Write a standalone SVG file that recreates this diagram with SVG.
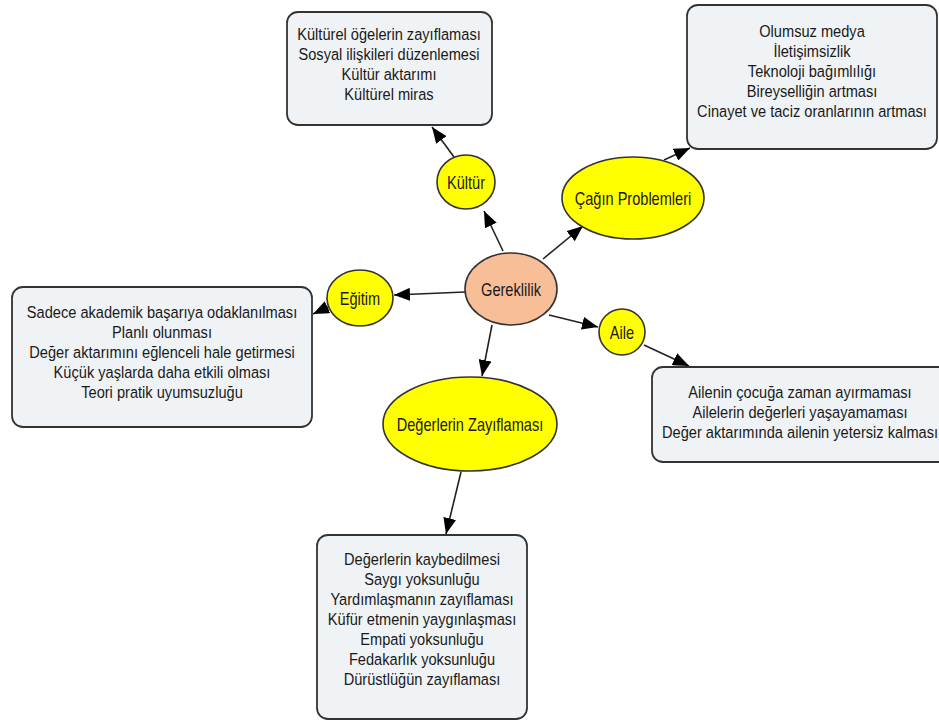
<svg xmlns="http://www.w3.org/2000/svg" width="939" height="722" viewBox="0 0 939 722">
<defs>
<style>
.box{fill:#EFF3F5;stroke:#333;stroke-width:1.8}
.yel{fill:#FFFF00;stroke:#333;stroke-width:1.6}
.peach{fill:#F7BE98;stroke:#333;stroke-width:1.6}
.t{font-family:"Liberation Sans",Arial,sans-serif;font-size:17px;fill:#1a1a1a;text-anchor:middle}
.e{font-family:"Liberation Sans",Arial,sans-serif;font-size:18px;fill:#1a1a1a;text-anchor:middle}
.c{stroke:#222;stroke-width:1.6;fill:none;marker-end:url(#ah)}
</style>
<marker id="ah" markerUnits="userSpaceOnUse" markerWidth="16" markerHeight="13" viewBox="0 0 16 13" refX="16" refY="6.5" orient="auto">
<path d="M0,0 L16,6.5 L0,13 Z" fill="#000"/>
</marker>
</defs>
<rect width="939" height="722" fill="#fff"/>
<g id="connectors">
<line class="c" x1="503" y1="251" x2="484" y2="211"/>
<line class="c" x1="454" y1="157" x2="432" y2="127"/>
<line class="c" x1="543" y1="259" x2="583" y2="226"/>
<line class="c" x1="664" y1="160" x2="690" y2="148"/>
<line class="c" x1="465" y1="292" x2="394" y2="295"/>
<line class="c" x1="328" y1="307" x2="313" y2="314"/>
<line class="c" x1="549" y1="315" x2="598" y2="327"/>
<line class="c" x1="644" y1="345" x2="689" y2="366"/>
<line class="c" x1="492" y1="325" x2="482" y2="376"/>
<line class="c" x1="461" y1="472" x2="446" y2="534"/>
</g>
<g id="kultur-box">
<rect class="box" x="287" y="12" width="205" height="113" rx="11"/>
<text class="t" transform="translate(389 0) scale(0.86 1)"><tspan x="0" y="40">Kültürel öğelerin zayıflaması</tspan><tspan x="0" y="60">Sosyal ilişkileri düzenlemesi</tspan><tspan x="0" y="80">Kültür aktarımı</tspan><tspan x="0" y="100">Kültürel miras</tspan></text>
</g>
<g id="cagin-box">
<rect class="box" x="687" y="5" width="250" height="144" rx="11"/>
<text class="t" transform="translate(812 0) scale(0.86 1)"><tspan x="0" y="37">Olumsuz medya</tspan><tspan x="0" y="57">İletişimsizlik</tspan><tspan x="0" y="77">Teknoloji bağımlılığı</tspan><tspan x="0" y="97">Bireyselliğin artması</tspan><tspan x="0" y="117">Cinayet ve taciz oranlarının artması</tspan></text>
</g>
<g id="egitim-box">
<rect class="box" x="12" y="287" width="300" height="140" rx="11"/>
<text class="t" transform="translate(162 0) scale(0.86 1)"><tspan x="0" y="318">Sadece akademik başarıya odaklanılması</tspan><tspan x="0" y="338">Planlı olunması</tspan><tspan x="0" y="358">Değer aktarımını eğlenceli hale getirmesi</tspan><tspan x="0" y="378">Küçük yaşlarda daha etkili olması</tspan><tspan x="0" y="398">Teori pratik uyumsuzluğu</tspan></text>
</g>
<g id="aile-box">
<rect class="box" x="652" y="367" width="300" height="95" rx="11"/>
<text class="t" transform="translate(800 0) scale(0.86 1)"><tspan x="0" y="398">Ailenin çocuğa zaman ayırmaması</tspan><tspan x="0" y="418">Ailelerin değerleri yaşayamaması</tspan><tspan x="0" y="438">Değer aktarımında ailenin yetersiz kalması</tspan></text>
</g>
<g id="degerler-box">
<rect class="box" x="317" y="535" width="210" height="184" rx="11"/>
<text class="t" transform="translate(422 0) scale(0.86 1)"><tspan x="0" y="565">Değerlerin kaybedilmesi</tspan><tspan x="0" y="585">Saygı yoksunluğu</tspan><tspan x="0" y="605">Yardımlaşmanın zayıflaması</tspan><tspan x="0" y="625">Küfür etmenin yaygınlaşması</tspan><tspan x="0" y="645">Empati yoksunluğu</tspan><tspan x="0" y="665">Fedakarlık yoksunluğu</tspan><tspan x="0" y="685">Dürüstlüğün zayıflaması</tspan></text>
</g>
<g id="gereklilik">
<ellipse class="peach" cx="511" cy="289" rx="46" ry="36"/>
<text class="e" transform="translate(511 0) scale(0.81 1)" x="0" y="296">Gereklilik</text>
</g>
<g id="kultur">
<ellipse class="yel" cx="466" cy="182" rx="29" ry="27"/>
<text class="e" transform="translate(466 0) scale(0.81 1)" x="0" y="189">Kültür</text>
</g>
<g id="cagin">
<ellipse class="yel" cx="633" cy="198" rx="71" ry="41"/>
<text class="e" transform="translate(633 0) scale(0.81 1)" x="0" y="205">Çağın Problemleri</text>
</g>
<g id="egitim">
<ellipse class="yel" cx="360" cy="298" rx="33" ry="28"/>
<text class="e" transform="translate(360 0) scale(0.81 1)" x="0" y="305">Eğitim</text>
</g>
<g id="aile">
<ellipse class="yel" cx="622" cy="332" rx="23" ry="23"/>
<text class="e" transform="translate(622 0) scale(0.81 1)" x="0" y="339">Aile</text>
</g>
<g id="degerler">
<ellipse class="yel" cx="470" cy="424" rx="87" ry="47"/>
<text class="e" transform="translate(470 0) scale(0.81 1)" x="0" y="431">Değerlerin Zayıflaması</text>
</g>
</svg>
